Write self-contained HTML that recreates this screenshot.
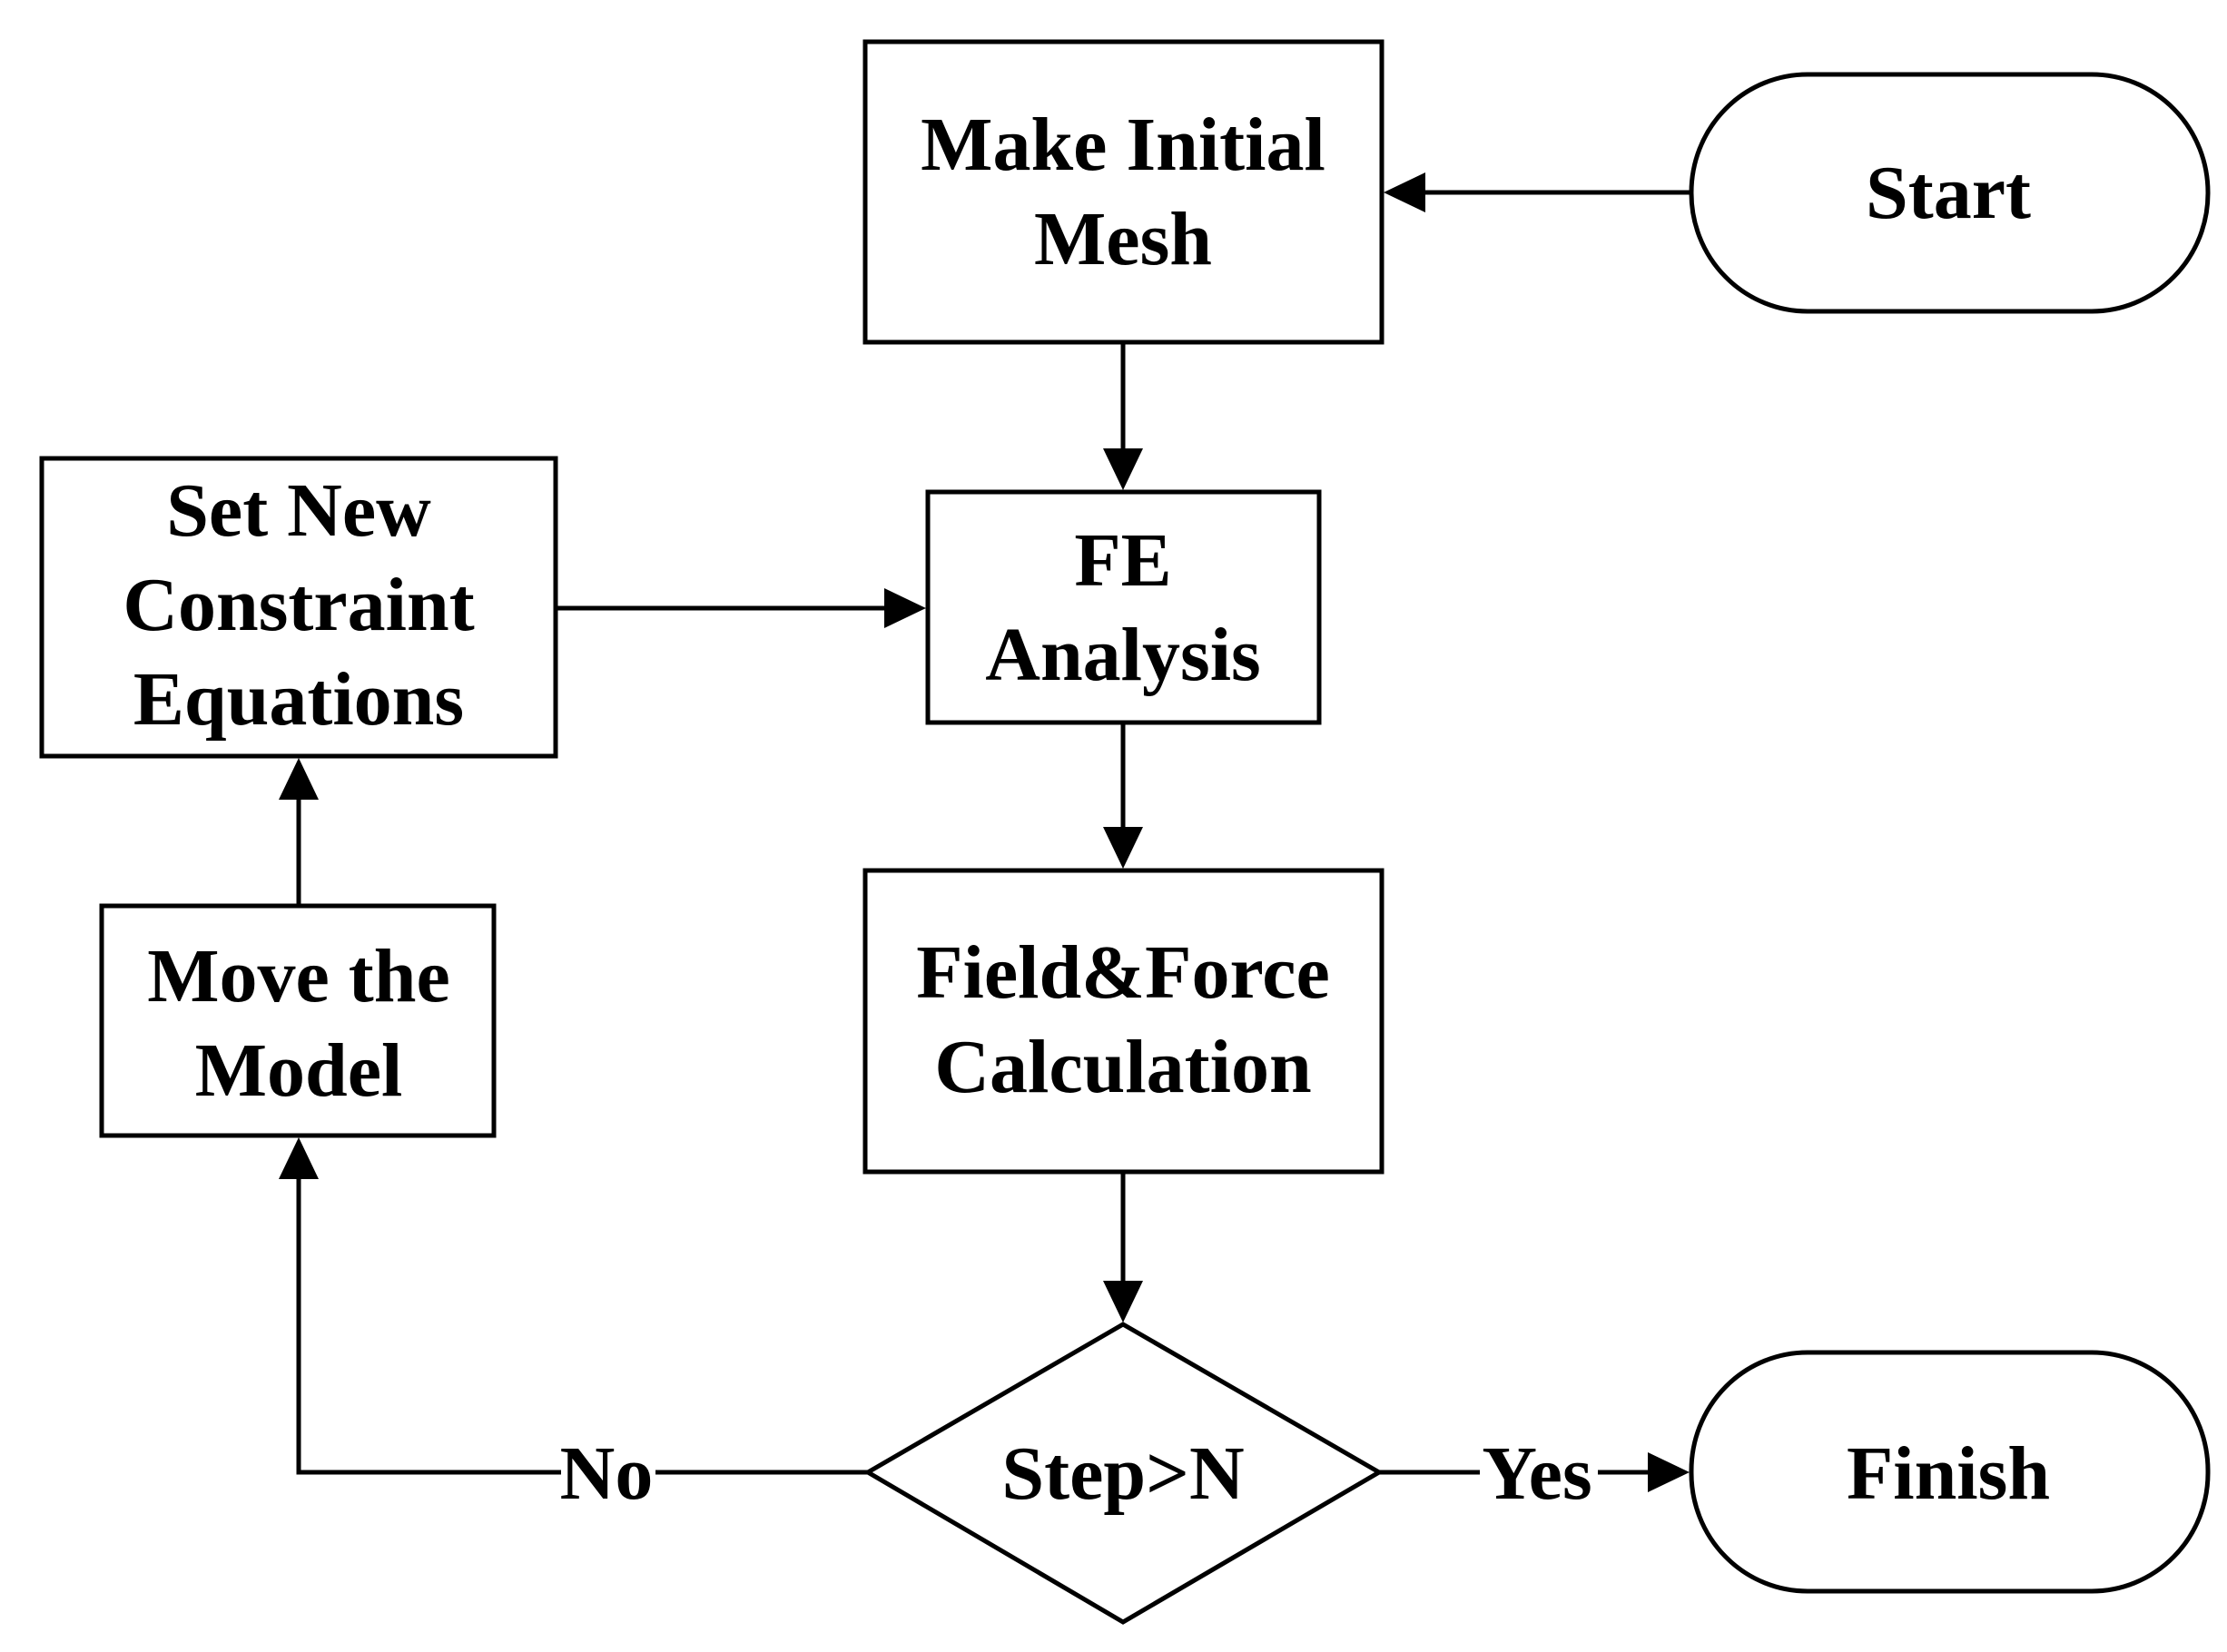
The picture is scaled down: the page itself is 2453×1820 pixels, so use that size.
<!DOCTYPE html>
<html><head><style>
html,body{margin:0;padding:0;background:#fff;}
svg{display:block;}
text{font-family:"Liberation Serif",serif;font-weight:bold;font-size:84px;fill:#000;text-anchor:middle;}
</style></head><body>
<svg width="2453" height="1820" viewBox="0 0 2453 1820" xmlns="http://www.w3.org/2000/svg">
<g fill="none" stroke="#000" stroke-width="5">
<rect x="953" y="46" width="569" height="331"/>
<rect x="1863" y="82" width="569" height="261" rx="128" ry="130"/>
<rect x="46" y="505" width="566" height="328"/>
<rect x="1022" y="542" width="431" height="254"/>
<rect x="953" y="959" width="569" height="332"/>
<rect x="112" y="998" width="432" height="253"/>
<polygon points="1237,1459 1519,1622 1237,1787 956,1622"/>
<rect x="1863" y="1490" width="569" height="263" rx="128" ry="130"/>
<line x1="1863" y1="212" x2="1560" y2="212"/>
<line x1="1237" y1="377" x2="1237" y2="500"/>
<line x1="612" y1="670" x2="980" y2="670"/>
<line x1="1237" y1="796" x2="1237" y2="917"/>
<line x1="1237" y1="1291" x2="1237" y2="1417"/>
<line x1="329" y1="998" x2="329" y2="875"/>
<polyline points="956,1622 329,1622 329,1293"/>
<line x1="1519" y1="1622" x2="1820" y2="1622"/>
</g>
<g fill="#000">
<polygon points="1524,212 1570,190 1570,234"/>
<polygon points="1237,540 1215,494 1259,494"/>
<polygon points="1020,670 974,648 974,692"/>
<polygon points="1237,957 1215,911 1259,911"/>
<polygon points="1237,1457 1215,1411 1259,1411"/>
<polygon points="329,835 307,881 351,881"/>
<polygon points="329,1253 307,1299 351,1299"/>
<polygon points="1861,1622 1815,1600 1815,1644"/>
</g>
<rect x="618" y="1590" width="104" height="64" fill="#fff"/>
<rect x="1630" y="1590" width="130" height="64" fill="#fff"/>
<text x="1237" y="187">Make Initial</text>
<text x="1237" y="291">Mesh</text>
<text x="2146" y="240">Start</text>
<text x="329" y="590">Set New</text>
<text x="329" y="694">Constraint</text>
<text x="329" y="798">Equations</text>
<text x="1237" y="645">FE</text>
<text x="1237" y="749">Analysis</text>
<text x="1237" y="1099">Field&amp;Force</text>
<text x="1237" y="1203">Calculation</text>
<text x="329" y="1103">Move the</text>
<text x="329" y="1207">Model</text>
<text x="1237" y="1651">Step&gt;N</text>
<text x="2146" y="1651">Finish</text>
<text x="668" y="1651">No</text>
<text x="1693" y="1651">Yes</text>
</svg>
</body></html>
